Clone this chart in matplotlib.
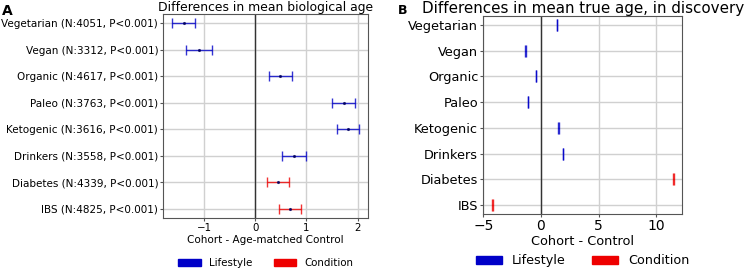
import matplotlib.pyplot as plt
from matplotlib.patches import Patch

# Panel A: differences in mean biological age
labels_a = ['Vegetarian (N:4051, P<0.001)', 'Vegan (N:3312, P<0.001)',
            'Organic (N:4617, P<0.001)', 'Paleo (N:3763, P<0.001)',
            'Ketogenic (N:3616, P<0.001)', 'Drinkers (N:3558, P<0.001)',
            'Diabetes (N:4339, P<0.001)', 'IBS (N:4825, P<0.001)']
mean_a = [-1.40, -1.10, 0.49, 1.73, 1.81, 0.76, 0.44, 0.68]
err_a = [0.23, 0.25, 0.22, 0.22, 0.22, 0.23, 0.21, 0.22]

# Panel B: differences in mean true age, in discovery
labels_b = ['Vegetarian', 'Vegan', 'Organic', 'Paleo', 'Ketogenic',
            'Drinkers', 'Diabetes', 'IBS']
mean_b = [1.39, -1.33, -0.43, -1.13, 1.50, 1.91, 11.47, -4.22]
err_b = [0.02, 0.02, 0.02, 0.02, 0.02, 0.02, 0.02, 0.02]

group = ['Lifestyle'] * 6 + ['Condition'] * 2
colors = {'Lifestyle': '#0000c8', 'Condition': '#ee0000'}

fig = plt.figure(figsize=(7.47, 2.70), dpi=100)
ax_a = fig.add_axes([0.2186, 0.1926, 0.2744, 0.7556])
ax_b = fig.add_axes([0.647, 0.2074, 0.2664, 0.733])


def draw(ax, labels, means, errs, fs, cap, ms):
    ys = list(range(len(labels)))
    for y, m, e, g in zip(ys, means, errs, group):
        ax.errorbar(m, y, xerr=e, fmt='.', color=colors[g], ecolor=colors[g],
                    markersize=ms, markerfacecolor='#000060', markeredgecolor='#000060',
                    elinewidth=1.0, capsize=cap, capthick=1.0, alpha=0.8, zorder=3)
    ax.set_yticks(ys)
    ax.set_yticklabels(labels, fontsize=fs)
    ax.invert_yaxis()
    ax.axvline(0, color='#333333', linewidth=1.0, zorder=2)
    ax.grid(True, color='#d0d0d0', linewidth=1.0, zorder=0)
    ax.set_axisbelow(True)
    ax.tick_params(axis='both', length=2.2, pad=1.5, color='#555555')
    for s in ax.spines.values():
        s.set_color('#555555')


def legend(ax, y, fs, hl, cs):
    ax.legend(handles=[Patch(color=colors['Lifestyle'], label='Lifestyle'),
                       Patch(color=colors['Condition'], label='Condition')],
              loc='center', bbox_to_anchor=(0.5, y), ncol=2,
              frameon=False, fontsize=fs, handlelength=hl, columnspacing=cs)


draw(ax_a, labels_a, mean_a, err_a, 7.5, 3.5, 2.5)
ax_a.set_xlim(-1.80, 2.21)
ax_a.set_xticks([-1, 0, 1, 2])
ax_a.tick_params(axis='x', labelsize=7.4)
ax_a.set_xlabel('Cohort - Age-matched Control', fontsize=7.5, labelpad=1.5)
ax_a.set_title('Differences in mean biological age', fontsize=8.9, pad=1)
legend(ax_a, -0.22, 7.4, 2.15, 2.1)

draw(ax_b, labels_b, mean_b, err_b, 9.3, 4.0, 0)
ax_b.set_xlim(-5.0, 12.25)
ax_b.set_xticks([-5, 0, 5, 10])
ax_b.tick_params(axis='x', labelsize=10)
ax_b.set_xlabel('Cohort - Control', fontsize=9.3, labelpad=1.5)
ax_b.set_title('Differences in mean true age, in discovery', fontsize=10.9, pad=2)
legend(ax_b, -0.237, 9.15, 2.05, 2.1)

fig.text(0.003, 0.985, 'A', fontsize=10, fontweight='bold', va='top', ha='left')
fig.text(0.533, 0.985, 'B', fontsize=9, fontweight='bold', va='top', ha='left')

fig.savefig('out.png', dpi=100)
